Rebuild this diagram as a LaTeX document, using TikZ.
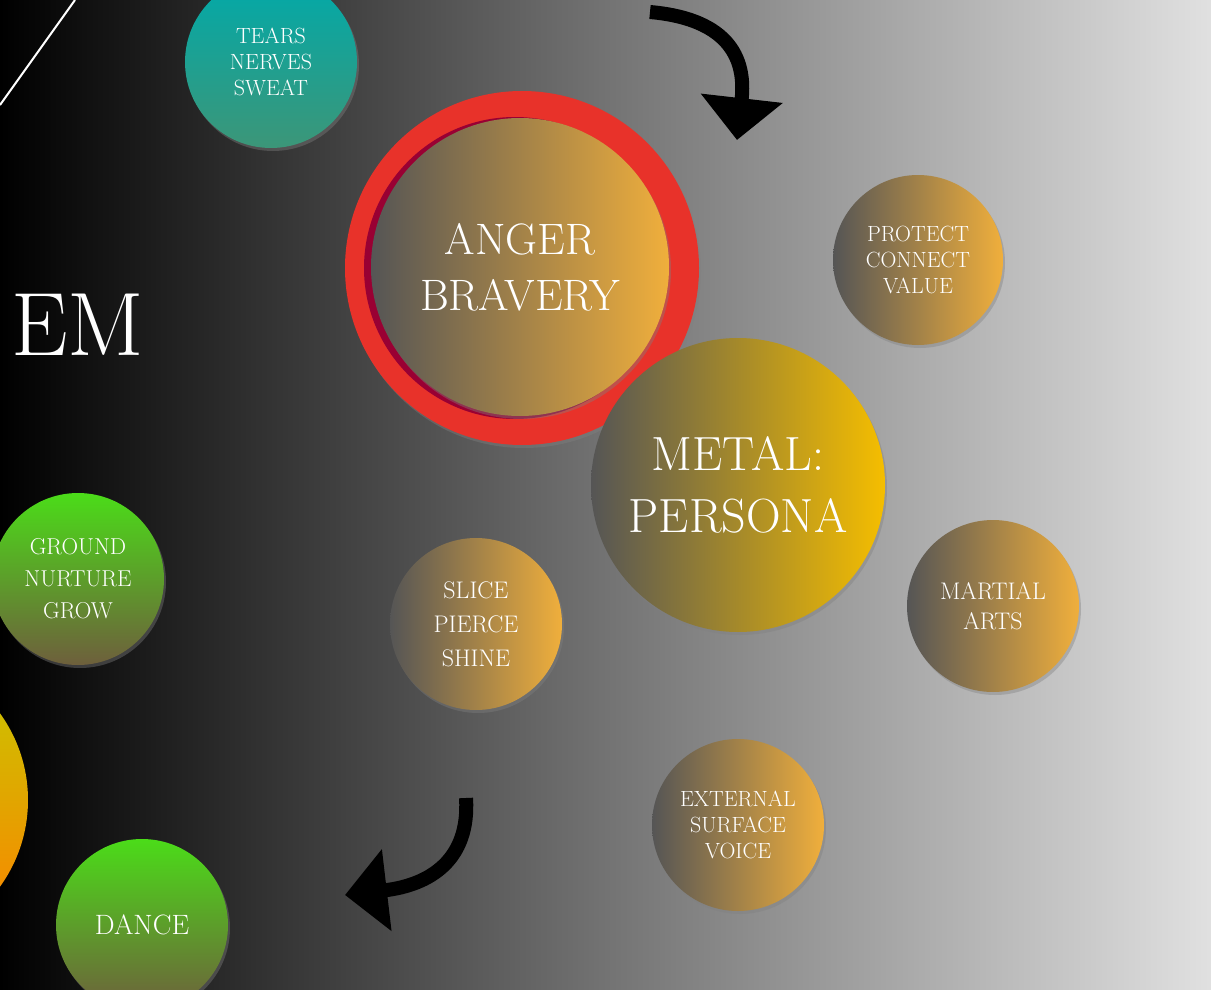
\documentclass[tikz,border=0pt]{standalone}
\usetikzlibrary{shadows,arrows.meta}
\definecolor{org}{RGB}{240,175,60}
\definecolor{yel}{RGB}{245,190,0}
\definecolor{gr}{RGB}{85,85,85}
\definecolor{grn}{RGB}{75,220,25}
\definecolor{brn}{RGB}{110,95,60}
\definecolor{teal1}{RGB}{0,170,170}
\definecolor{teal2}{RGB}{60,150,120}
\definecolor{redring}{RGB}{232,50,42}
\tikzset{
 ball/.style={circle,inner sep=0pt,align=center,text=white,font=\fontsize{22}{26}\selectfont,drop shadow={shadow xshift=2pt,shadow yshift=-3pt,opacity=.4}},
 orb/.style={ball,left color=gr,right color=org},
 grb/.style={ball,top color=grn,bottom color=brn},
}
\begin{document}
\begin{tikzpicture}[x=1pt,y=-1pt]
\useasboundingbox (0,0) rectangle (1211,990);
\shade[left color=black,right color=black!12,middle color=black!55] (0,0) rectangle (1211,990);
\draw[white,line width=2pt] (0,105) -- (75,0);
\node[text=white,font=\fontsize{90}{90}\selectfont,anchor=east] (em) at (148,325) {EM};
\node[circle,minimum size=296pt,top color=yel!80!green,bottom color=orange] (half) at (-120,800) {};
\node[ball,minimum size=172pt,top color=teal1,bottom color=teal2] (tears) at (271,62) {TEARS\\NERVES\\SWEAT};
\node[circle,minimum size=354pt,fill=redring,drop shadow={shadow xshift=2pt,shadow yshift=-3pt,opacity=.4}] (ring) at (522,268) {};
\node[circle,minimum size=302pt,fill=purple!80!black] (rin) at (515,268) {};
\node[orb,minimum size=298pt,font=\fontsize{44}{56}\selectfont] (anger) at (520,267) {ANGER\\BRAVERY};
\node[ball,minimum size=294pt,left color=gr,right color=yel,font=\fontsize{48}{62}\selectfont] (metal) at (738,485) {METAL:\\PERSONA};
\node[orb,minimum size=170pt] (protect) at (918,260) {PROTECT\\CONNECT\\VALUE};
\node[orb,minimum size=172pt,font=\fontsize{24}{30}\selectfont] (martial) at (993,606) {MARTIAL\\ARTS};
\node[orb,minimum size=172pt,font=\fontsize{24}{34}\selectfont] (slice) at (476,624) {SLICE\\PIERCE\\SHINE};
\node[orb,minimum size=172pt] (ext) at (738,825) {EXTERNAL\\SURFACE\\VOICE};
\node[grb,minimum size=172pt,font=\fontsize{23}{32}\selectfont] (ground) at (78,579) {GROUND\\NURTURE\\GROW};
\node[grb,minimum size=172pt,font=\fontsize{28}{28}\selectfont] (dance) at (142,925) {DANCE};
\coordinate (a1) at (650,12);
\coordinate (a2) at (737,140);
\draw[line width=14pt,-{Triangle[length=42pt,width=80pt]}] (a1) .. controls (740,20) and (745,70) .. (a2);
\coordinate (b1) at (466,798);
\coordinate (b2) at (345,895);
\draw[line width=14pt,-{Triangle[length=42pt,width=80pt]}] (b1) .. controls (470,860) and (430,885) .. (b2);
\end{tikzpicture}
\end{document}
